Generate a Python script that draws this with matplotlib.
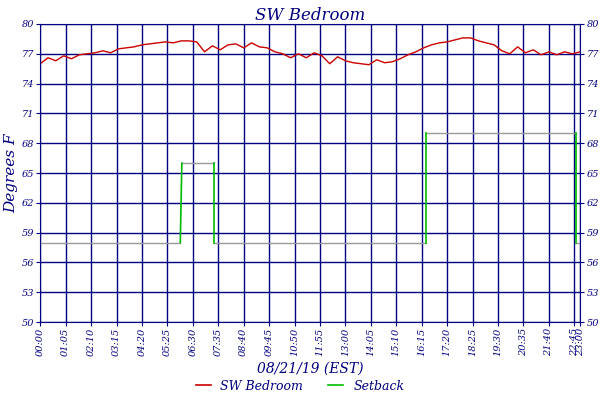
import matplotlib
matplotlib.use("Agg")
import matplotlib.pyplot as plt
import numpy as np

# temperature every 20 minutes from 00:00 to 23:00
temp_minutes = list(range(0, 1381, 20))
temp_values = [76.0, 76.6, 76.3, 76.8,
               76.5, 76.9, 77.0, 77.1,
               77.3, 77.1, 77.5, 77.6, 77.7,
               77.9, 78.0, 78.1, 78.2, 78.1, 78.3,
               78.3, 78.2, 77.2, 77.8, 77.4,
               77.9, 78.0, 77.6, 78.1, 77.7,
               77.6, 77.2, 77.0, 76.6, 77.0, 76.6, 77.1,
               76.8, 76.0, 76.7, 76.3, 76.1,
               76.0, 75.9, 76.4, 76.1, 76.2,
               76.5, 76.9, 77.2, 77.6, 77.9,
               78.1, 78.2, 78.4, 78.6, 78.6,
               78.3, 78.1, 77.9, 77.3, 77.0,
               77.7, 77.1, 77.4, 76.9, 77.2,
               76.9, 77.2, 77.0, 77.2]

# setback schedule: (start minute, end minute, setpoint)
setback_start = [0, 362, 445, 987, 1370]
setback_end = [358, 445, 987, 1370, 1380]
setback_value = [58, 66, 58, 69, 58]

tick_minutes = list(range(0, 1366, 65)) + [1380]
tick_labels = ["%02d:%02d" % (m // 60, m % 60) for m in tick_minutes]
y_ticks = list(range(50, 81, 3))

navy = "#000080"
fig = plt.figure(figsize=(6, 4), dpi=100)
ax = fig.add_axes([0.067, 0.195, 0.9, 0.745])

for s, e, v in zip(setback_start, setback_end, setback_value):
    ax.plot([s, e], [v, v], color="#999999", lw=1)
for i in range(len(setback_value) - 1):
    ax.plot([setback_end[i], setback_start[i + 1]],
            [setback_value[i], setback_value[i + 1]], color="#00bb00", lw=1.2)
ax.plot(temp_minutes, temp_values, color="#cc0000", lw=1)

ax.set_xlim(0, 1380)
ax.set_ylim(50, 80)
ax.set_xticks(tick_minutes)
ax.set_xticklabels(tick_labels, rotation=90)
ax.set_yticks(y_ticks)
ax.grid(True, color=navy, lw=1)
for sp in ax.spines.values():
    sp.set_color(navy)
ax.tick_params(colors=navy, labelsize=7, length=3, pad=1.5, right=True, labelright=True)
for lab in ax.get_xticklabels() + ax.get_yticklabels():
    lab.set_fontstyle("italic")
    lab.set_family("serif")
ax.set_title("SW Bedroom", color=navy, style="italic", family="serif", fontsize=12, pad=3)
ax.set_ylabel("Degrees F", color=navy, style="italic", family="serif", fontsize=11, labelpad=2)
ax.set_xlabel("08/21/19 (EST)", color=navy, style="italic", family="serif", fontsize=10, labelpad=4)

h1, = ax.plot([], [], color="#cc0000", lw=1.2)
h2, = ax.plot([], [], color="#00bb00", lw=1.2)
fig.legend([h1, h2], ["SW Bedroom", "Setback"], loc="lower center", ncol=2, frameon=False,
           bbox_to_anchor=(0.5, -0.01), handlelength=1.2,
           prop={"family": "serif", "style": "italic", "size": 9}, labelcolor=navy)

fig.savefig("out.png", dpi=100)
